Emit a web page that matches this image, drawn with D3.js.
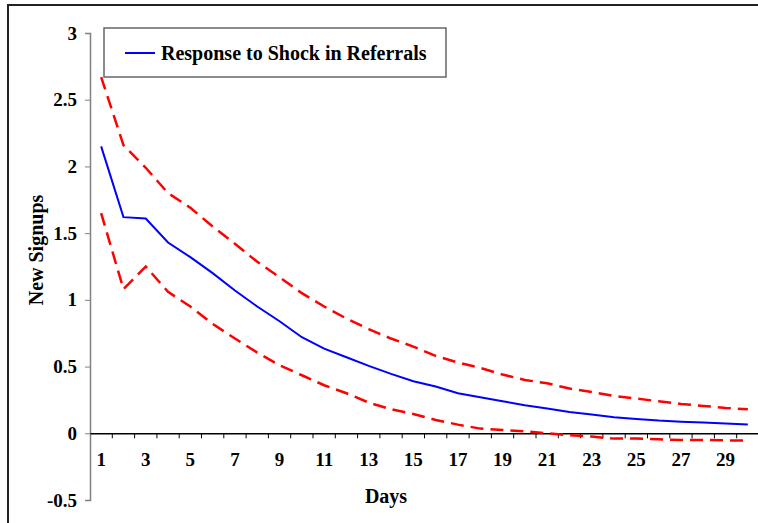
<!DOCTYPE html>
<html>
<head>
<meta charset="utf-8">
<script src="https://cdn.jsdelivr.net/npm/d3@7"></script>
<style>
  body { margin: 0; background: #fff; }
  svg { display: block; font-family: "Liberation Serif", "Times New Roman", serif; font-weight: bold; }
</style>
</head>
<body>
<div id="vis"></div>
<script>
const days = d3.range(1, 31);

const response = [2.15, 1.62, 1.61, 1.43, 1.32, 1.20, 1.07, 0.95, 0.84, 0.72,
                  0.635, 0.57, 0.505, 0.445, 0.39, 0.35, 0.30, 0.27, 0.24, 0.21,
                  0.185, 0.16, 0.14, 0.12, 0.107, 0.095, 0.087, 0.08, 0.073, 0.065];

const upper_band = [2.67, 2.16, 1.99, 1.80, 1.69, 1.55, 1.42, 1.285, 1.17, 1.05,
                    0.95, 0.86, 0.78, 0.71, 0.65, 0.58, 0.53, 0.49, 0.44, 0.40,
                    0.375, 0.335, 0.31, 0.28, 0.26, 0.24, 0.22, 0.205, 0.19, 0.18];

const lower_band = [1.65, 1.08, 1.25, 1.06, 0.95, 0.82, 0.71, 0.605, 0.51, 0.435,
                    0.36, 0.30, 0.23, 0.18, 0.145, 0.10, 0.065, 0.035, 0.025, 0.015,
                    0.0, -0.015, -0.025, -0.04, -0.04, -0.045, -0.05, -0.05, -0.053, -0.055];

const y_ticks = [-0.5, 0, 0.5, 1, 1.5, 2, 2.5, 3];
const x_labels = days.filter((d) => d % 2 === 1);

const frame_width = 758;
const frame_height = 523;
const margins = {left: 90, right: -1, top: 33, bottom: 23};

const x_scale =
d3.scaleBand()
    .domain(days)
    .range([margins.left, frame_width - margins.right])
    .paddingInner(0)
    .paddingOuter(0);

const y_scale =
d3.scaleLinear()
    .domain([-0.5, 3])
    .range([frame_height - margins.bottom, margins.top]);

const svg =
d3.select("#vis")
    .append("svg")
        .attr("width", frame_width)
        .attr("height", frame_height);

// outer frame (only the left and top edges show)
svg.append("path")
    .attr("d", "M8,523 L8,5 L758,5")
    .attr("fill", "none")
    .attr("stroke", "#222")
    .attr("stroke-width", 2);

// y axis
const y_axis = svg.append("g")
    .attr("transform", "translate(" + margins.left + ",0)")
    .call(d3.axisLeft(y_scale)
        .tickValues(y_ticks)
        .tickFormat((d) => d)
        .tickSize(5)
        .tickPadding(8));
y_axis.select(".domain").attr("stroke", "#808080").attr("stroke-width", 1.5);
y_axis.selectAll(".tick line").attr("stroke", "#808080");
y_axis.selectAll("text")
    .attr("font-size", "19px")
    .attr("font-family", "Liberation Serif")
    .attr("font-weight", "bold")
    .attr("fill", "#000");

// x axis along zero
const zero_y = y_scale(0);
const x_axis = svg.append("g")
    .attr("transform", "translate(0," + zero_y + ")")
    .call(d3.axisBottom(x_scale)
        .tickValues(x_labels)
        .tickSize(0)
        .tickPadding(19));
x_axis.select(".domain").attr("stroke", "#000").attr("stroke-width", 1.5);
x_axis.selectAll("text")
    .attr("font-size", "19px")
    .attr("font-family", "Liberation Serif")
    .attr("font-weight", "bold")
    .attr("fill", "#000");

// x tick marks between categories
x_axis.selectAll(".edge")
    .data(days.slice(1))
    .enter()
    .append("line")
        .attr("class", "edge")
        .attr("x1", (d) => x_scale(d))
        .attr("x2", (d) => x_scale(d))
        .attr("y1", 0)
        .attr("y2", 5)
        .attr("stroke", "#000")
        .attr("stroke-width", 1);

const line_gen = (vals) =>
    d3.line()
        .x((d, i) => x_scale(days[i]) + x_scale.bandwidth() / 2)
        .y((d) => y_scale(d))(vals);

svg.append("path")
    .attr("d", line_gen(upper_band))
    .attr("fill", "none")
    .attr("stroke", "#ff0000")
    .attr("stroke-width", 2.5)
    .attr("stroke-dasharray", "13,7");

svg.append("path")
    .attr("d", line_gen(lower_band))
    .attr("fill", "none")
    .attr("stroke", "#ff0000")
    .attr("stroke-width", 2.5)
    .attr("stroke-dasharray", "13,7");

svg.append("path")
    .attr("d", line_gen(response))
    .attr("fill", "none")
    .attr("stroke", "#0000ff")
    .attr("stroke-width", 2);

// axis titles
svg.append("text")
    .attr("x", 386)
    .attr("y", 503)
    .attr("text-anchor", "middle")
    .attr("font-size", "20px")
    .text("Days");

svg.append("text")
    .attr("transform", "translate(43,250) rotate(-90)")
    .attr("text-anchor", "middle")
    .attr("font-size", "20px")
    .text("New Signups");

// legend
const legend = svg.append("g");
legend.append("rect")
    .attr("x", 104)
    .attr("y", 28)
    .attr("width", 342)
    .attr("height", 49)
    .attr("fill", "#fff")
    .attr("stroke", "#666")
    .attr("stroke-width", 1.5);
legend.append("line")
    .attr("x1", 125)
    .attr("x2", 155)
    .attr("y1", 53)
    .attr("y2", 53)
    .attr("stroke", "#0000ff")
    .attr("stroke-width", 2);
legend.append("text")
    .attr("x", 161)
    .attr("y", 60)
    .attr("font-size", "20px")
    .text("Response to Shock in Referrals");
</script>
</body>
</html>
